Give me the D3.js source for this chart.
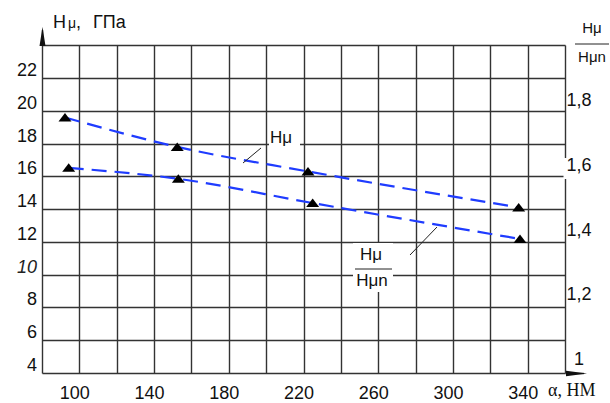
<!DOCTYPE html>
<html><head><meta charset="utf-8">
<script src="https://cdn.jsdelivr.net/npm/d3@7"></script>
<style>body{margin:0;background:#fff}svg{display:block}</style>
</head><body><svg id="c" width="610" height="403"></svg>
<script>
// ---- data ----
const xTicks = [100, 140, 180, 220, 260, 300, 340];
const leftTicks = [4, 6, 8, 10, 12, 14, 16, 18, 20, 22];
const rightTicks = [1, 1.2, 1.4, 1.6, 1.8];
const hmuX = [92.3, 152.4, 222.4, 335.2];      // nm
const hmuY = [19.1, 17.3, 15.8, 13.6];         // ГПа (left axis)
const ratioX = [94.3, 153.0, 224.9, 335.9];    // nm
const ratioY = [1.59, 1.556, 1.481, 1.37];     // Hμ/Hμn (right axis)

(function () {
// ---- scales ----
const svg = d3.select("#c");
const x = d3.scaleLinear([80, 360], [42, 565]);
const yL = d3.scaleLinear([4, 22], [364.5, 70]);
const yR = d3.scaleLinear([1, 1.8], [358.5, 100]);
const yTop = yL(23.5), yBot = yL(3.5);
const gridColor = "#333";
const ff = "Arial, 'Liberation Sans', sans-serif";
const r = v => Math.round(v) + 0.5;

// grid
const g = svg.append("g").attr("stroke", gridColor).attr("stroke-width", 1.4);
g.selectAll(".v").data(d3.range(80, 361, 20)).join("line")
  .attr("x1", d => r(x(d))).attr("x2", d => r(x(d))).attr("y1", r(yTop)).attr("y2", r(yBot));
g.selectAll(".h").data(d3.range(3.5, 23.6, 2)).join("line")
  .attr("x1", r(x(80))).attr("x2", r(x(360))).attr("y1", d => r(yL(d))).attr("y2", d => r(yL(d)));
// axis extensions
g.append("line").attr("x1", r(x(80))).attr("x2", r(x(80))).attr("y1", 30).attr("y2", r(yTop));
g.append("line").attr("x1", r(x(360))).attr("x2", 584).attr("y1", r(yBot)).attr("y2", r(yBot));
svg.append("path").attr("d", `M${r(x(80))},27L${r(x(80))+3},46L${r(x(80))-3},46Z`).attr("fill", "#111");
svg.append("path").attr("d", `M587,${r(yBot)}L566,${r(yBot)-2.8}L566,${r(yBot)+2.8}Z`).attr("fill", "#111");
// gap in right border near "1,6"
svg.append("rect").attr("x", r(x(360))-2).attr("y", 158).attr("width", 4).attr("height", 21).attr("fill", "#fff");

// axes
const axL = svg.append("g").attr("transform", `translate(${x(80)},0)`)
  .call(d3.axisLeft(yL).tickValues(leftTicks).tickSize(0).tickPadding(5));
const axB = svg.append("g").attr("transform", `translate(-5,${yBot})`)
  .call(d3.axisBottom(x).tickValues(xTicks).tickSize(0).tickPadding(14));
const axR = svg.append("g").attr("transform", `translate(${x(360)},0)`)
  .call(d3.axisRight(yR).tickValues(rightTicks).tickSize(0)
    .tickFormat(d => d === 1 ? "1" : d3.format(".1f")(d).replace(".", ",")));
[axL, axB, axR].forEach(a => {
  a.select(".domain").remove();
  a.selectAll("text").attr("font-family", ff).attr("font-size", 18).attr("fill", "#111");
});
axR.selectAll("text").attr("text-anchor", "middle").attr("x", 14);
axL.selectAll(".tick text").filter(d => d === 10).attr("font-style", "italic").attr("fill", "#222");

// curves
const line = d3.line().curve(d3.curveMonotoneX);
svg.append("path")
  .attr("d", line(hmuX.map((v, i) => [x(v), yL(hmuY[i])])))
  .attr("fill", "none").attr("stroke", "#1f3cff").attr("stroke-width", 2.2).attr("stroke-dasharray", "15,8");
svg.append("path")
  .attr("d", line(ratioX.map((v, i) => [x(v), yR(ratioY[i])])))
  .attr("fill", "none").attr("stroke", "#1f3cff").attr("stroke-width", 2.2).attr("stroke-dasharray", "15,8");

// markers
const tri = (cx, cy) => `M${cx},${cy-4.5}L${cx+6.5},${cy+4}L${cx-6.5},${cy+4}Z`;
svg.selectAll(".m1").data(hmuX).join("path").attr("d", (d, i) => tri(x(d), yL(hmuY[i]))).attr("fill", "#000");
svg.selectAll(".m2").data(ratioX).join("path").attr("d", (d, i) => tri(x(d), yR(ratioY[i]))).attr("fill", "#000");

// annotations
svg.append("rect").attr("x", 269).attr("y", 120).attr("width", 31).attr("height", 31).attr("fill", "#fff");
svg.append("text").attr("x", 270).attr("y", 143).attr("font-family", ff).attr("font-size", 17).attr("fill", "#111").text("Hμ");
svg.append("line").attr("x1", 261).attr("y1", 148).attr("x2", 243).attr("y2", 163).attr("stroke", "#222").attr("stroke-width", 1);

svg.append("rect").attr("x", 353).attr("y", 243).attr("width", 40).attr("height", 49).attr("fill", "#fff");
svg.append("text").attr("x", 371).attr("y", 260).attr("text-anchor", "middle").attr("font-family", ff).attr("font-size", 17).attr("fill", "#111").text("Hμ");
svg.append("line").attr("x1", 355).attr("x2", 392).attr("y1", 269).attr("y2", 269).attr("stroke", "#222").attr("stroke-width", 1);
svg.append("text").attr("x", 372).attr("y", 286).attr("text-anchor", "middle").attr("font-family", ff).attr("font-size", 17).attr("fill", "#111").text("Hμn");
svg.append("line").attr("x1", 410).attr("y1", 255).attr("x2", 437).attr("y2", 227).attr("stroke", "#222").attr("stroke-width", 1);

// axis titles
const t1 = svg.append("text").attr("x", 53).attr("y", 28).attr("font-family", ff).attr("font-size", 18).attr("fill", "#111");
t1.append("tspan").text("H");
t1.append("tspan").attr("dx", 2).attr("font-size", 14).text("μ");
t1.append("tspan").text(",");
t1.append("tspan").attr("x", 93).text("ГПа");

svg.append("text").attr("x", 592).attr("y", 33).attr("text-anchor", "middle").attr("font-family", ff).attr("font-size", 15).attr("fill", "#111").text("Hμ");
svg.append("line").attr("x1", 575).attr("x2", 609).attr("y1", 44).attr("y2", 44).attr("stroke", "#222").attr("stroke-width", 1);
svg.append("text").attr("x", 592).attr("y", 62).attr("text-anchor", "middle").attr("font-family", ff).attr("font-size", 15).attr("fill", "#111").text("Hμn");

svg.append("text").attr("x", 548).attr("y", 396).attr("font-family", "'Liberation Serif', 'Times New Roman', serif").attr("font-size", 18).attr("fill", "#111").text("α, НМ");
})();
</script></body></html>
